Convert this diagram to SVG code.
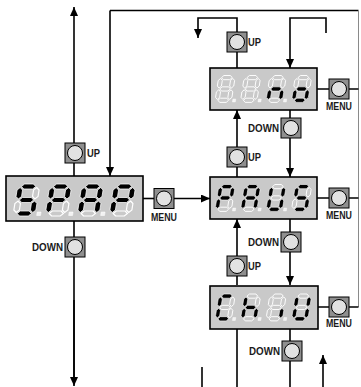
<svg xmlns="http://www.w3.org/2000/svg" xmlns:xlink="http://www.w3.org/1999/xlink" width="361" height="387" viewBox="0 0 361 387">
<style>
.ln{fill:none;stroke:#000;stroke-width:1.6}
.gl{fill:none;stroke:#8a8a8a;stroke-width:1}
.disp{fill:#c9c9c9;stroke:#000;stroke-width:1.6}
.btn{fill:#8f8f8f;stroke:#000;stroke-width:1}
.knob{fill:#e2e2e2;stroke:#000;stroke-width:1}
.on{fill:#000;stroke:#fff;stroke-width:0.7}
.off{fill:#c9c9c9;stroke:#fff;stroke-width:1.1}
.dp{fill:#f2f2f2;stroke:#fff;stroke-width:0.5}
.lb{font-family:"Liberation Sans Narrow","Liberation Sans",Arial,sans-serif;font-size:10px;font-weight:bold;fill:#1a1a1a}
</style>
<defs>
<marker id="ah" viewBox="0 0 10 10" refX="10" refY="5" markerWidth="9" markerHeight="8" markerUnits="userSpaceOnUse" orient="auto" preserveAspectRatio="none"><path d="M0,0 L10,5 L0,10 z" fill="#000"/></marker>
<polygon id="sa" points="3.5,2.5 6,0 14,0 16.5,2.5 14,5 6,5"/>
<polygon id="sg" points="3.5,16 6,13.5 14,13.5 16.5,16 14,18.5 6,18.5"/>
<polygon id="sd" points="3.5,29.5 6,27 14,27 16.5,29.5 14,32 6,32"/>
<polygon id="sf" points="2.5,3.5 5,6 5,12.5 2.5,15 0,12.5 0,6"/>
<polygon id="sb" points="17.5,3.5 20,6 20,12.5 17.5,15 15,12.5 15,6"/>
<polygon id="se" points="2.5,17 5,19.5 5,26 2.5,28.5 0,26 0,19.5"/>
<polygon id="sc" points="17.5,17 20,19.5 20,26 17.5,28.5 15,26 15,19.5"/>
<rect id="sp" x="21.5" y="28" width="3.5" height="3.5"/>
</defs>

<g id="connectors">
<line class="ln" x1="74" y1="384" x2="74" y2="7" marker-end="url(#ah)"/>
<line class="ln" x1="74" y1="300" x2="74" y2="386" marker-end="url(#ah)"/>
<path class="ln" d="M110,10.5 H358.5"/>
<path class="ln" d="M110,10.5 V176" marker-end="url(#ah)"/>
<path class="gl" d="M358.5,10.5 V307"/>
<line class="ln" x1="143" y1="198.5" x2="154" y2="198.5"/>
<line class="ln" x1="174" y1="198.5" x2="210" y2="198.5" marker-end="url(#ah)"/>
<line class="ln" x1="317" y1="89" x2="358.5" y2="89"/>
<line class="ln" x1="317" y1="198" x2="358.5" y2="198"/>
<line class="ln" x1="318" y1="307" x2="358.5" y2="307"/>
<path class="ln" d="M237,42 V18 H198 V38" marker-end="url(#ah)"/>
<line class="ln" x1="237" y1="52" x2="237" y2="68"/>
<path class="ln" d="M326,33 V18 H290 V68" marker-end="url(#ah)"/>
<line class="ln" x1="237" y1="150" x2="237" y2="110" marker-end="url(#ah)"/>
<line class="ln" x1="290" y1="110" x2="290" y2="120"/>
<line class="ln" x1="290" y1="130" x2="290" y2="177" marker-end="url(#ah)"/>
<line class="ln" x1="237" y1="160" x2="237" y2="177"/>
<line class="ln" x1="237" y1="260" x2="237" y2="219" marker-end="url(#ah)"/>
<line class="ln" x1="290" y1="219" x2="290" y2="235"/>
<line class="ln" x1="290" y1="245" x2="290" y2="285" marker-end="url(#ah)"/>
<line class="ln" x1="237" y1="270" x2="237" y2="285"/>
<line class="ln" x1="237" y1="329" x2="237" y2="387"/>
<line class="ln" x1="290" y1="329" x2="290" y2="387"/>
<line class="ln" x1="202" y1="367" x2="202" y2="387"/>
<line class="ln" x1="323" y1="387" x2="323" y2="355" marker-end="url(#ah)"/>
</g>

<g id="display-left">
<rect class="disp" x="6" y="176" width="137" height="45"/>
<g transform="translate(18,184) skewX(-9) scale(1.1,1)">
<use href="#sa" class="on"/><use href="#sb" class="off"/><use href="#sc" class="on"/><use href="#sd" class="on"/><use href="#se" class="off"/><use href="#sf" class="on"/><use href="#sg" class="on"/><use href="#sp" class="dp"/>
</g>
<g transform="translate(50,184) skewX(-9) scale(1.1,1)">
<use href="#sa" class="on"/><use href="#sb" class="on"/><use href="#sc" class="off"/><use href="#sd" class="off"/><use href="#se" class="on"/><use href="#sf" class="on"/><use href="#sg" class="on"/><use href="#sp" class="dp"/>
</g>
<g transform="translate(82,184) skewX(-9) scale(1.1,1)">
<use href="#sa" class="on"/><use href="#sb" class="on"/><use href="#sc" class="on"/><use href="#sd" class="off"/><use href="#se" class="on"/><use href="#sf" class="on"/><use href="#sg" class="on"/><use href="#sp" class="dp"/>
</g>
<g transform="translate(114,184) skewX(-9) scale(1.1,1)">
<use href="#sa" class="on"/><use href="#sb" class="on"/><use href="#sc" class="off"/><use href="#sd" class="off"/><use href="#se" class="on"/><use href="#sf" class="on"/><use href="#sg" class="on"/>
</g>
</g>

<g id="display-top">
<rect class="disp" x="210" y="68" width="107" height="42"/>
<g transform="translate(219,75.5) skewX(-9) scale(0.82,0.84)">
<use href="#sa" class="off"/><use href="#sb" class="off"/><use href="#sc" class="off"/><use href="#sd" class="off"/><use href="#se" class="off"/><use href="#sf" class="off"/><use href="#sg" class="off"/><use href="#sp" class="dp"/>
</g>
<g transform="translate(244.5,75.5) skewX(-9) scale(0.82,0.84)">
<use href="#sa" class="off"/><use href="#sb" class="off"/><use href="#sc" class="off"/><use href="#sd" class="off"/><use href="#se" class="off"/><use href="#sf" class="off"/><use href="#sg" class="off"/><use href="#sp" class="dp"/>
</g>
<g transform="translate(270,75.5) skewX(-9) scale(0.82,0.84)">
<use href="#sa" class="off"/><use href="#sb" class="off"/><use href="#sc" class="on"/><use href="#sd" class="off"/><use href="#se" class="on"/><use href="#sf" class="off"/><use href="#sg" class="on"/><use href="#sp" class="dp"/>
</g>
<g transform="translate(295.5,75.5) skewX(-9) scale(0.82,0.84)">
<use href="#sa" class="off"/><use href="#sb" class="off"/><use href="#sc" class="on"/><use href="#sd" class="on"/><use href="#se" class="on"/><use href="#sf" class="off"/><use href="#sg" class="on"/>
</g>
</g>

<g id="display-middle">
<rect class="disp" x="210" y="177" width="107" height="42"/>
<g transform="translate(219,184.5) skewX(-9) scale(0.82,0.84)">
<use href="#sa" class="on"/><use href="#sb" class="on"/><use href="#sc" class="off"/><use href="#sd" class="off"/><use href="#se" class="on"/><use href="#sf" class="on"/><use href="#sg" class="on"/><use href="#sp" class="dp"/>
</g>
<g transform="translate(244.5,184.5) skewX(-9) scale(0.82,0.84)">
<use href="#sa" class="on"/><use href="#sb" class="on"/><use href="#sc" class="on"/><use href="#sd" class="off"/><use href="#se" class="on"/><use href="#sf" class="on"/><use href="#sg" class="on"/><use href="#sp" class="dp"/>
</g>
<g transform="translate(270,184.5) skewX(-9) scale(0.82,0.84)">
<use href="#sa" class="off"/><use href="#sb" class="on"/><use href="#sc" class="on"/><use href="#sd" class="on"/><use href="#se" class="on"/><use href="#sf" class="on"/><use href="#sg" class="off"/><use href="#sp" class="dp"/>
</g>
<g transform="translate(295.5,184.5) skewX(-9) scale(0.82,0.84)">
<use href="#sa" class="on"/><use href="#sb" class="off"/><use href="#sc" class="on"/><use href="#sd" class="on"/><use href="#se" class="off"/><use href="#sf" class="on"/><use href="#sg" class="on"/>
</g>
</g>

<g id="display-bottom">
<rect class="disp" x="210" y="286" width="108" height="43"/>
<g transform="translate(219,294) skewX(-9) scale(0.82,0.84)">
<use href="#sa" class="on"/><use href="#sb" class="off"/><use href="#sc" class="off"/><use href="#sd" class="on"/><use href="#se" class="on"/><use href="#sf" class="on"/><use href="#sg" class="off"/><use href="#sp" class="dp"/>
</g>
<g transform="translate(244.5,294) skewX(-9) scale(0.82,0.84)">
<use href="#sa" class="off"/><use href="#sb" class="off"/><use href="#sc" class="on"/><use href="#sd" class="off"/><use href="#se" class="on"/><use href="#sf" class="on"/><use href="#sg" class="on"/><use href="#sp" class="dp"/>
</g>
<g transform="translate(270,294) skewX(-9) scale(0.82,0.84)">
<use href="#sa" class="off"/><use href="#sb" class="off"/><use href="#sc" class="on"/><use href="#sd" class="off"/><use href="#se" class="off"/><use href="#sf" class="off"/><use href="#sg" class="off"/><use href="#sp" class="dp"/>
</g>
<g transform="translate(295.5,294) skewX(-9) scale(0.82,0.84)">
<use href="#sa" class="off"/><use href="#sb" class="on"/><use href="#sc" class="on"/><use href="#sd" class="on"/><use href="#se" class="on"/><use href="#sf" class="on"/><use href="#sg" class="off"/>
</g>
</g>

<g id="btn-left-up"><rect class="btn" x="65" y="143" width="20" height="20"/><circle class="knob" cx="75" cy="153" r="7.5"/><text class="lb" x="87" y="157" textLength="13" lengthAdjust="spacingAndGlyphs">UP</text></g>
<g id="btn-left-down"><rect class="btn" x="65" y="237" width="20" height="20"/><circle class="knob" cx="75" cy="247" r="7.5"/><text class="lb" x="32" y="251" textLength="31" lengthAdjust="spacingAndGlyphs">DOWN</text></g>
<g id="btn-left-menu"><rect class="btn" x="154" y="188.5" width="20" height="20"/><circle class="knob" cx="164" cy="198.5" r="7.5"/><text class="lb" x="151" y="221" textLength="26" lengthAdjust="spacingAndGlyphs">MENU</text></g>

<g id="btn-top-up"><rect class="btn" x="227" y="32" width="20" height="20"/><circle class="knob" cx="237" cy="42" r="7.5"/><text class="lb" x="248" y="46" textLength="13" lengthAdjust="spacingAndGlyphs">UP</text></g>
<g id="btn-top-menu"><rect class="btn" x="329" y="79" width="20" height="20"/><circle class="knob" cx="339" cy="89" r="7.5"/><text class="lb" x="326" y="110" textLength="26" lengthAdjust="spacingAndGlyphs">MENU</text></g>
<g id="btn-top-down"><rect class="btn" x="281" y="118" width="20" height="20"/><circle class="knob" cx="291" cy="128" r="7.5"/><text class="lb" x="248" y="132" textLength="31" lengthAdjust="spacingAndGlyphs">DOWN</text></g>

<g id="btn-mid-up"><rect class="btn" x="227" y="147" width="20" height="20"/><circle class="knob" cx="237" cy="157" r="7.5"/><text class="lb" x="248" y="161" textLength="13" lengthAdjust="spacingAndGlyphs">UP</text></g>
<g id="btn-mid-menu"><rect class="btn" x="329" y="188" width="20" height="20"/><circle class="knob" cx="339" cy="198" r="7.5"/><text class="lb" x="326" y="219" textLength="26" lengthAdjust="spacingAndGlyphs">MENU</text></g>
<g id="btn-mid-down"><rect class="btn" x="281" y="232" width="20" height="20"/><circle class="knob" cx="291" cy="242" r="7.5"/><text class="lb" x="248" y="246" textLength="31" lengthAdjust="spacingAndGlyphs">DOWN</text></g>

<g id="btn-bot-up"><rect class="btn" x="227" y="256" width="20" height="20"/><circle class="knob" cx="237" cy="266" r="7.5"/><text class="lb" x="248" y="270" textLength="13" lengthAdjust="spacingAndGlyphs">UP</text></g>
<g id="btn-bot-menu"><rect class="btn" x="329" y="297" width="20" height="20"/><circle class="knob" cx="339" cy="307" r="7.5"/><text class="lb" x="326" y="327" textLength="26" lengthAdjust="spacingAndGlyphs">MENU</text></g>
<g id="btn-bot-down"><rect class="btn" x="282" y="341" width="20" height="20"/><circle class="knob" cx="292" cy="351" r="7.5"/><text class="lb" x="249" y="355" textLength="31" lengthAdjust="spacingAndGlyphs">DOWN</text></g>
</svg>
